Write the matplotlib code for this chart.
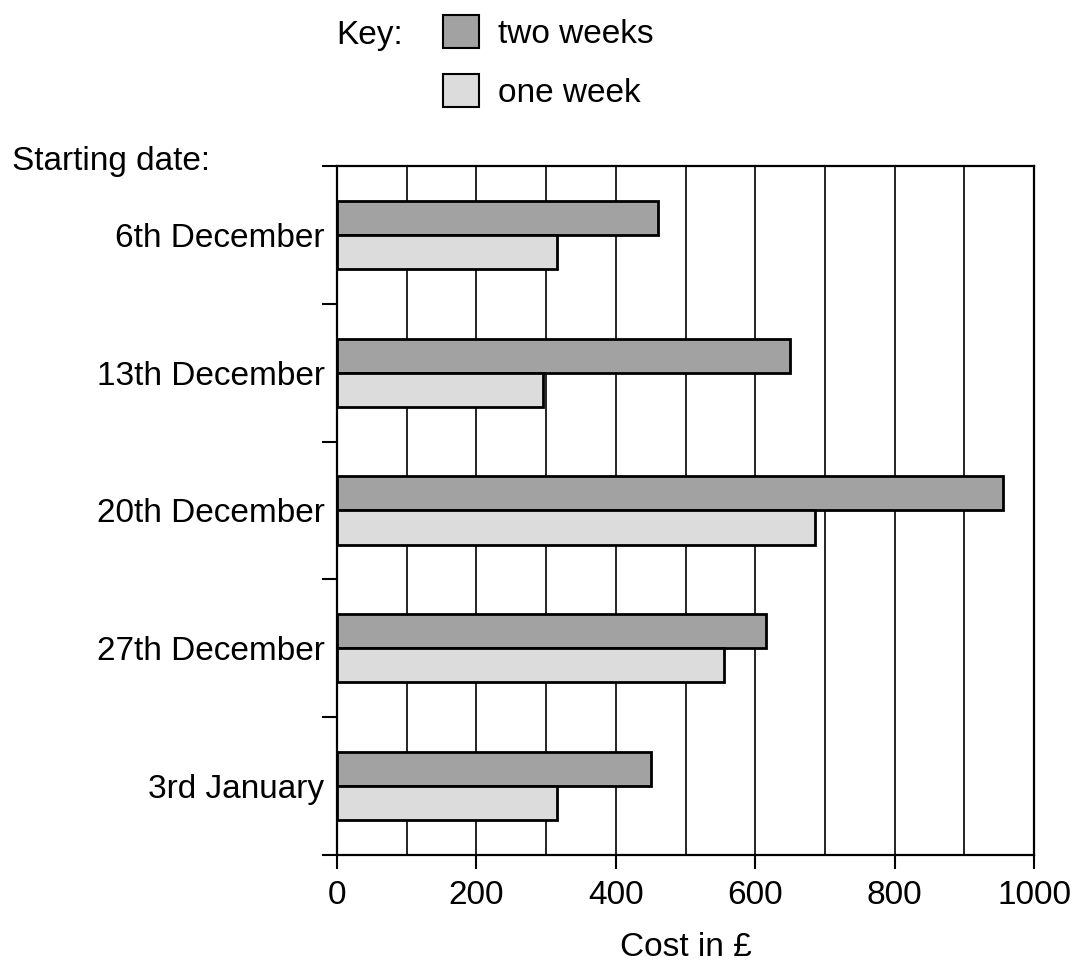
import matplotlib
matplotlib.use('agg')
import matplotlib.pyplot as plt
from matplotlib.patches import Patch
from matplotlib.ticker import MultipleLocator, FixedLocator

# Holiday cost data
dates = ['6th December', '13th December', '20th December', '27th December', '3rd January']
two_weeks = [460, 650, 955, 615, 450]
one_week = [315, 295, 685, 555, 315]

plt.rcParams['font.family'] = ['Liberation Sans', 'DejaVu Sans']

dark = '#a2a2a2'
light = '#dcdcdc'
bar_h = 0.247
fs = 24

fig = plt.figure(figsize=(10.82, 9.65), dpi=100)
ax = fig.add_axes([0.3115, 0.114, 0.6442, 0.714])

pos = list(range(len(dates)))
ax.barh([p - bar_h / 2 for p in pos], two_weeks, height=bar_h,
        color=dark, edgecolor='black', linewidth=2, zorder=3)
ax.barh([p + bar_h / 2 for p in pos], one_week, height=bar_h,
        color=light, edgecolor='black', linewidth=2, zorder=3)

ax.set_xlim(0, 1000)
ax.set_ylim(len(dates) - 0.5, -0.5)

# x axis: labels every 200, grid every 100
ax.xaxis.set_major_locator(MultipleLocator(200))
ax.xaxis.set_minor_locator(MultipleLocator(100))
ax.grid(axis='x', which='both', color='black', linewidth=1.2, zorder=1)
ax.tick_params(axis='x', which='major', direction='out', length=10, width=1.5,
               labelsize=fs, pad=8)
ax.tick_params(axis='x', which='minor', length=0)

# y axis: labels at band centres, ticks at band edges
ax.set_yticks(pos)
ax.set_yticklabels(dates)
ax.yaxis.set_minor_locator(FixedLocator([p - 0.5 for p in pos] + [len(dates) - 0.5]))
ax.tick_params(axis='y', which='major', length=0, labelsize=fs, pad=9)
ax.tick_params(axis='y', which='minor', direction='out', length=11, width=1.5)

for s in ax.spines.values():
    s.set_linewidth(1.6)

ax.set_xlabel('Cost in £', fontsize=fs, labelpad=15)

fig.text(12 / 1082, 1 - 170 / 965, 'Starting date:', fontsize=fs, ha='left', va='baseline')

# key
fig.text(336 / 1082, 1 - 44 / 965, 'Key:', fontsize=fs, ha='left', va='baseline')
handles = [Patch(facecolor=dark, edgecolor='black', linewidth=1.5, label='two weeks'),
           Patch(facecolor=light, edgecolor='black', linewidth=1.5, label='one week')]
fig.legend(handles=handles, loc='upper left', bbox_to_anchor=(443 / 1082, 1 - 15 / 965),
           frameon=False, fontsize=fs, handlelength=1.08, handleheight=1.15,
           handletextpad=0.57, labelspacing=0.72, borderpad=0, borderaxespad=0)

fig.savefig('out.png', dpi=100, facecolor='white')
